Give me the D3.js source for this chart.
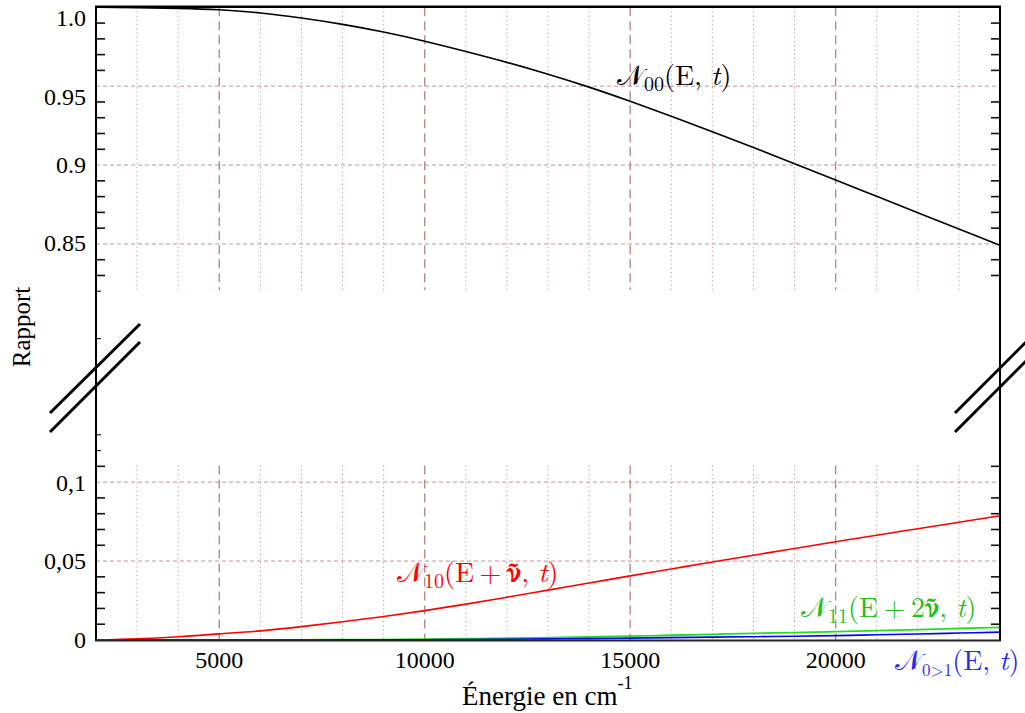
<!DOCTYPE html>
<html><head><meta charset="utf-8">
<script src="https://cdn.jsdelivr.net/npm/d3@7"></script>
<style>
body{margin:0;background:#fff}
svg{display:block}
</style>
</head><body>
<svg id="c" width="1025" height="713"></svg>
<script>
// ---- data ----
const energy = [2000,3000,4000,5000,6000,7000,8000,9000,10000,11000,12000,13000,14000,15000,16000,17000,18000,19000,20000,21000,22000,23000,24000];
const n00  = [1.0,0.9998,0.9993,0.9984,0.9964,0.9932,0.9892,0.9843,0.9785,0.972,0.9651,0.9576,0.9494,0.9404,0.9309,0.9211,0.9111,0.9009,0.8906,0.8802,0.8698,0.8594,0.8491];
const n10  = [0,0.0008,0.0021,0.0039,0.0058,0.0085,0.0116,0.0149,0.0186,0.0227,0.0271,0.0316,0.0361,0.0406,0.045,0.0494,0.0537,0.058,0.0622,0.0664,0.0705,0.0746,0.0787];
const n11  = [0,0,0,0,0.00005,0.0001,0.0002,0.0003,0.0005,0.0008,0.0011,0.0015,0.0019,0.0024,0.003,0.0036,0.0042,0.0047,0.0053,0.006,0.0066,0.0073,0.008];
const n0g1 = [0,0,0,0,0,0,0.00005,0.0001,0.0002,0.0003,0.0005,0.0007,0.0009,0.0012,0.0015,0.0018,0.0021,0.0024,0.0028,0.0033,0.0038,0.0044,0.005];
const xMajor = [5000,10000,15000,20000];
const xTickLabels = ["5000","10000","15000","20000"];
const topLabels = ["1.0","0.95","0.9","0.85"];
const topLabelAt = [0.9935,0.9435,0.9002,0.8508];
const topGrid = [0.95,0.9,0.85];
const botLabels = ["0,1","0,05","0"];
const botLabelAt = [0.1,0.05,0];
const botGrid = [0.1,0.05];

// ---- layout ----
const L=96, R=1000, T=7.3, TB=290, BT=464.6, B=640;
const SERIF = '"Liberation Serif","Times New Roman",serif';
const CM = '"Latin Modern Roman","Liberation Serif",serif';
const svg = d3.select("#c");
const x = d3.scaleLinear().domain([2000,24000]).range([L,R]);
const yT = d3.scaleLinear().domain([0.8208,1.0]).range([TB,T]);
const yB = d3.scaleLinear().domain([0,0.1111]).range([B,BT]);
const gridCol = "#c49494";

// vertical grid
const xMinor = d3.range(3000,24000,1000).filter(v=>!xMajor.includes(v));
function vgrid(y0,y1){
  svg.append("g").selectAll("line").data(xMinor).join("line")
    .attr("x1",d=>x(d)).attr("x2",d=>x(d)).attr("y1",y0).attr("y2",y1)
    .attr("stroke",gridCol).attr("stroke-width",1).attr("stroke-dasharray","1.2,3");
  svg.append("g").selectAll("line").data(xMajor).join("line")
    .attr("x1",d=>x(d)).attr("x2",d=>x(d)).attr("y1",y0).attr("y2",y1)
    .attr("stroke","#b98a8a").attr("stroke-width",1.4).attr("stroke-dasharray","9,5");
}
vgrid(T,TB); vgrid(BT+1,B);
// horizontal grid
svg.append("g").selectAll("line").data(topGrid).join("line")
  .attr("x1",L).attr("x2",R).attr("y1",d=>yT(d)).attr("y2",d=>yT(d))
  .attr("stroke",gridCol).attr("stroke-width",1).attr("stroke-dasharray","4,3");
svg.append("g").selectAll("line").data(botGrid).join("line")
  .attr("x1",L).attr("x2",R).attr("y1",d=>yB(d)).attr("y2",d=>yB(d))
  .attr("stroke",gridCol).attr("stroke-width",1).attr("stroke-dasharray","4,3");

// ticks (every 0.01, except grid positions)
const topTicks = d3.range(83,100).map(v=>v/100).filter(v=>Math.round(v*100)%5!==0);
const botTicks = d3.range(1,12).map(v=>v/100).filter(v=>Math.round(v*100)%5!==0);
function ticks(vals,sc){
  [[L,9],[R,-9]].forEach(([x0,dx])=>{
    svg.append("g").selectAll("line").data(vals).join("line")
      .attr("x1",x0).attr("x2",x0+dx).attr("y1",d=>sc(d)).attr("y2",d=>sc(d))
      .attr("stroke","#111").attr("stroke-width",1.6);
  });
}
ticks(topTicks,yT); ticks(botTicks,yB);
svg.append("g").selectAll("line").data([0.82,0.79]).join("line")
  .attr("x1",L).attr("x2",L+5).attr("y1",d=>yT(d)).attr("y2",d=>yT(d)).attr("stroke","#222").attr("stroke-width",1.2);
svg.append("g").selectAll("line").data([0.12,0.13]).join("line")
  .attr("x1",L).attr("x2",L+5).attr("y1",d=>yB(d)).attr("y2",d=>yB(d)).attr("stroke","#222").attr("stroke-width",1.2);

// curves
const lineT = d3.line().x((d,i)=>x(energy[i])).y(d=>yT(d)).curve(d3.curveNatural);
const lineB = d3.line().x((d,i)=>x(energy[i])).y(d=>yB(d)).curve(d3.curveMonotoneX);
svg.append("path").attr("d",lineT(n00)).attr("fill","none").attr("stroke","#000").attr("stroke-width",1.6);
svg.append("path").attr("d",lineB(n11)).attr("fill","none").attr("stroke","#22dd22").attr("stroke-width",1.8);
svg.append("path").attr("d",lineB(n0g1)).attr("fill","none").attr("stroke","#0000ff").attr("stroke-width",1.6);
svg.append("path").attr("d",lineB(n10)).attr("fill","none").attr("stroke","#ff0000").attr("stroke-width",1.6);

// frame
svg.append("line").attr("x1",L).attr("x2",L).attr("y1",T-1).attr("y2",B+1).attr("stroke","#000").attr("stroke-width",2);
svg.append("line").attr("x1",R).attr("x2",R).attr("y1",T-1).attr("y2",B+1).attr("stroke","#000").attr("stroke-width",2);
svg.append("line").attr("x1",L-1).attr("x2",R+1).attr("y1",T-0.5).attr("y2",T-0.5).attr("stroke","#000").attr("stroke-width",2.4);
svg.append("line").attr("x1",L-1).attr("x2",R+1).attr("y1",B+0.5).attr("y2",B+0.5).attr("stroke","#222").attr("stroke-width",2.2);

// break marks
function brk(x0,y0,x1,y1){
  svg.append("line").attr("x1",x0).attr("y1",y0).attr("x2",x1).attr("y2",y1).attr("stroke","#000").attr("stroke-width",3);
}
brk(50,413,140,324); brk(50,432,140,342);
brk(955,413,1027,341); brk(955,432,1027,360);

// tick labels
const fs = 24;
svg.append("g").selectAll("text").data(topLabels).join("text")
  .attr("x",L-10).attr("y",(d,i)=>yT(topLabelAt[i])).attr("dy","0.35em")
  .attr("text-anchor","end").attr("font-size",fs).style("font-family",SERIF).text(d=>d);
svg.append("g").selectAll("text").data(botLabels).join("text")
  .attr("x",L-10).attr("y",(d,i)=>yB(botLabelAt[i])).attr("dy","0.35em")
  .attr("text-anchor","end").attr("font-size",fs).style("font-family",SERIF).text(d=>d);
svg.append("g").selectAll("text").data(xTickLabels).join("text")
  .attr("x",(d,i)=>x(xMajor[i])).attr("y",B+28)
  .attr("text-anchor","middle").attr("font-size",fs).style("font-family",SERIF).text(d=>d);

// axis titles
const xt = svg.append("text").attr("x",462).attr("y",705).attr("font-size",27).style("font-family",SERIF);
xt.append("tspan").text("Énergie en cm");
xt.append("tspan").attr("dy",-16).attr("font-size",18).text("-1");
svg.append("text").attr("transform","translate(30,327) rotate(-90)")
  .attr("text-anchor","middle").attr("font-size",25).style("font-family",SERIF).text("Rapport");

// curve labels
function lab(xp,yp,col,sub,parts,subSize){
  const t = svg.append("text").attr("x",xp).attr("y",yp).attr("font-size",28)
    .attr("fill",col).style("font-family",CM);
  t.append("tspan").text("𝒩");
  t.append("tspan").attr("dy",6).attr("font-size",subSize||20).text(sub);
  let first = true;
  parts.forEach(([txt,kind])=>{
    const ts = t.append("tspan").text(txt);
    if(first){ ts.attr("dy",-6); first=false; }
    if(kind==="i") ts.attr("font-style","italic");
    if(kind==="nu") ts.style("font-family",'"STIX Two Text","FreeSerif",serif').attr("font-weight","bold");
  });
}
lab(617,85,"#000","00",[["(E, ",""],["t","i"],[")",""]]);
lab(397,582,"#ff0000","10",[["(E\u2009+\u2009",""],["ν̃","nu"],[", ",""],["t","i"],[")",""]]);
lab(801,617,"#1fbf1f","11",[["(E\u2009+\u20092",""],["ν̃","nu"],[", ",""],["t","i"],[")",""]]);
lab(895,670,"#2a2aee","0>1",[["(E, ",""],["t","i"],[")",""]],17);
</script>
</body></html>
